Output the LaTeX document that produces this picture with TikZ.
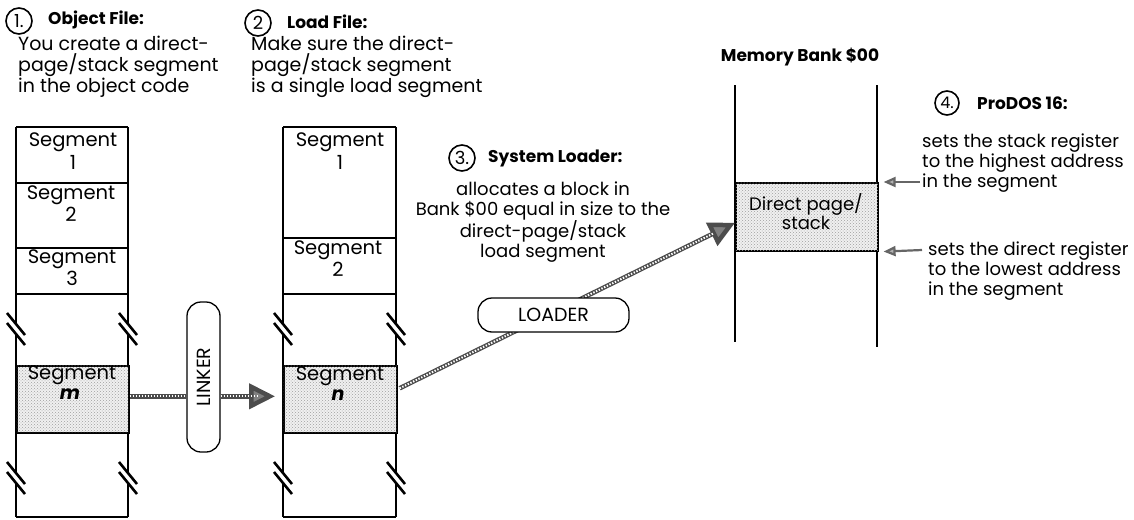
\documentclass[tikz,border=0pt]{standalone}
\usepackage{fontspec}
\setmainfont{Poppins}
\usetikzlibrary{arrows.meta,patterns}
\begin{document}
\begin{tikzpicture}[x=1pt,y=-1pt,
  body/.style={inner sep=0pt, align=left, font=\fontsize{19}{21}\selectfont},
  rbody/.style={inner sep=0pt, align=left, font=\fontsize{18}{19.6}\selectfont},
  cbody/.style={inner sep=0pt, align=center, font=\fontsize{18}{19.4}\selectfont},
  head/.style={inner sep=0pt, font=\bfseries\fontsize{17}{17}\selectfont},
  num/.style={draw, circle, line width=1.6pt, minimum size=26pt, inner sep=0pt, font=\fontsize{18}{18}\selectfont},
  seglbl/.style={inner sep=0pt, font=\fontsize{19.5}{19.5}\selectfont},
  hline/.style={line width=1.6pt},
  vline/.style={line width=1.2pt},
  brk/.style={line width=2.6pt},
  shadebox/.style={draw, line width=1.6pt, fill=gray!12, inner sep=0pt,
     postaction={pattern=crosshatch dots, pattern color=gray!75}},
  pill/.style={draw, line width=1.3pt, rounded corners=14pt, fill=white, inner sep=2pt,
     font=\fontsize{19}{19}\selectfont},
  fat/.style={line width=4.5pt, draw=black!70,
     postaction={draw=white, line width=2pt, dash pattern=on 1.4pt off 1.6pt, arrows=-, shorten >=#1}},
  fat/.default=0pt,
  bigtip/.style={-{Triangle[length=26pt,width=25pt,fill=black!50]}},
  smallarrow/.style={line width=2.2pt, draw=black!60, -{Triangle[length=12pt,width=10pt,fill=gray!60]}}
]
\useasboundingbox (0,0) rectangle (1134,519);

% ---------- headings ----------
\node[num] (n1) at (19,21) {1.};
\node[head, anchor=west] (h1) at (48,20) {Object File:};
\node[body, anchor=north west] (b1) at (18,36) {You create a direct-\\page/stack segment\\in the object code};

\node[num] (n2) at (258,23) {2};
\node[head, anchor=west] (h2) at (287,22) {Load File:};
\node[body, anchor=north west] (b2) at (251,36) {Make sure the direct-\\page/stack segment\\is a single load segment};

\node[num] (n3) at (462,158) {3.};
\node[head, anchor=west] (h3) at (488,158) {System Loader:};
\node[cbody, anchor=north] (b3) at (543,182) {allocates a block in\\Bank \$00 equal in size to the\\direct-page/stack\\load segment};

\node[head] (mb) at (800,57) {Memory Bank \$00};

\node[num, minimum size=24pt, font=\fontsize{16}{16}\selectfont] (n4) at (947,103) {4.};
\node[head, anchor=west] (h4) at (977,103) {ProDOS 16:};
\node[rbody, anchor=north west] (r1) at (922,134) {sets the stack register\\to the highest address\\in the segment};
\node[rbody, anchor=north west] (r2) at (928,242) {sets the direct register\\to the lowest address\\in the segment};

% ---------- column A (object file) ----------
\foreach \y in {127,183,248,294,517} \draw[hline] (16,\y) -- (128,\y);
\foreach \x in {16,128} {
  \draw[vline] (\x,127) -- (\x,324);
  \draw[vline] (\x,334) -- (\x,473);
  \draw[vline] (\x,483) -- (\x,517);
  \foreach \yy in {329,478} {
    \draw[brk] (\x-9,\yy-16) -- (\x+9,\yy+6);
    \draw[brk] (\x-9,\yy-6) -- (\x+9,\yy+16);
  }
}
\node[shadebox, minimum width=112pt, minimum height=67pt, anchor=north west] (segm) at (16,365) {};
\node[seglbl] (a1) at (73,142) {Segment};
\node[seglbl] (a1n) at (73,162) {1};
\node[seglbl] (a2) at (71,195) {Segment};
\node[seglbl] (a2n) at (71,214) {2};
\node[seglbl] (a3) at (72,259) {Segment};
\node[seglbl] (a3n) at (72,278) {3};
\node[seglbl] (am) at (72,375) {Segment};
\node[seglbl, font=\bfseries\itshape\fontsize{19}{19}\selectfont] (amn) at (70,394) {m};

% ---------- column B (load file) ----------
\foreach \y in {127,238,294,517} \draw[hline] (283,\y) -- (396,\y);
\foreach \x in {283,396} {
  \draw[vline] (\x,127) -- (\x,324);
  \draw[vline] (\x,334) -- (\x,473);
  \draw[vline] (\x,483) -- (\x,517);
  \foreach \yy in {329,478} {
    \draw[brk] (\x-9,\yy-16) -- (\x+9,\yy+6);
    \draw[brk] (\x-9,\yy-6) -- (\x+9,\yy+16);
  }
}
\node[shadebox, minimum width=113pt, minimum height=67pt, anchor=north west] (segn) at (283,365) {};
\node[seglbl] (b1s) at (340,142) {Segment};
\node[seglbl] (b1n) at (340,162) {1};
\node[seglbl] (b2s) at (338,250) {Segment};
\node[seglbl] (b2n) at (338,269) {2};
\node[seglbl] (bn) at (340,376) {Segment};
\node[seglbl, font=\bfseries\itshape\fontsize{19}{19}\selectfont] (bnn) at (338,395) {n};

% ---------- memory bank ----------
\draw[vline] (735,85) -- (735,342);
\draw[vline] (877,85) -- (877,347);
\node[shadebox, minimum width=142pt, minimum height=68pt, anchor=north west] (dp) at (735,182) {};
\node[seglbl, align=center, font=\fontsize{18}{19}\selectfont] (dpl) at (806,212) {Direct page/\\stack};

% ---------- linker ----------
\node[pill, rotate=90, minimum width=150pt, minimum height=33pt] (linker) at (203.5,377) {LINKER};
\draw[fat] ([yshift=3pt]segm.east) -- ([yshift=3pt]segm.east -| linker.north);
\draw[fat=24pt, bigtip, shorten >=8pt] ([yshift=3pt]segn.west -| linker.south) -- ([yshift=3pt]segn.west);

% ---------- loader ----------
\draw[fat=24pt, bigtip] ([yshift=11pt,xshift=2pt]segn.east) -- ([yshift=-6pt]dp.west);
\node[pill, minimum width=151pt, minimum height=34pt] (loader) at (553.5,315) {LOADER};

% ---------- ProDOS arrows ----------
\coordinate (ra1) at (920,182);
\coordinate (ra2) at (922,250);
\draw[smallarrow] (ra1) -- ([xshift=5pt]dp.north east);
\draw[smallarrow] (ra2) -- ([xshift=5pt]dp.south east);
\end{tikzpicture}
\end{document}
